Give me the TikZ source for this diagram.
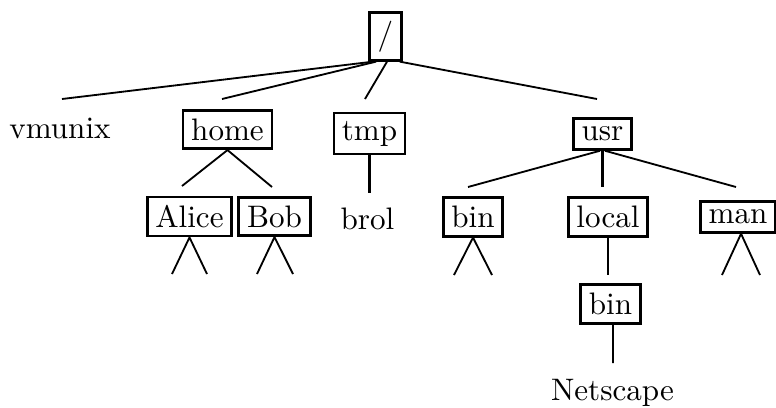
\documentclass[tikz,border=0pt]{standalone}
\begin{document}
\begin{tikzpicture}[x=0.328pt,y=-0.328pt,
  dirbox/.style={draw,line width=0.9pt,inner sep=2.7pt,font=\fontsize{10.2}{12}\selectfont},
  thinbox/.style={dirbox,line width=0.6pt},
  leaf/.style={inner sep=0pt,anchor=base,font=\fontsize{10.2}{12}\selectfont},
  conn/.style={line width=0.6pt},
  thickconn/.style={line width=1.25pt}]
\useasboundingbox (0,0) rectangle (776,407);
% nodes
\node[dirbox] (root) at (385.5,36.5) {/};
\node[leaf] (vmunix) at (60,138) {vmunix};
\node[dirbox] (home) at (227.5,129.5) {home};
\node[thinbox] (tmp) at (369.5,133.5) {tmp};
\node[dirbox] (usr) at (602.5,134) {usr};
\node[dirbox] (alice) at (189.5,216.5) {Alice};
\node[dirbox] (bob) at (274.5,216.5) {Bob};
\node[leaf] (brol) at (367.5,229) {brol};
\node[dirbox] (bin) at (473,217) {bin};
\node[dirbox] (local) at (608,217) {local};
\node[dirbox] (man) at (738,217) {man};
\node[dirbox] (lbin) at (610.5,304) {bin};
\node[leaf] (netscape) at (612.5,400) {Netscape};
% free ends
\coordinate (eVmunix) at (62,99);
\coordinate (eHome) at (222,99);
\coordinate (eTmp) at (365,99);
\coordinate (eUsr) at (597,99);
\coordinate (eAlice) at (182,186);
\coordinate (eBob) at (272,187);
\coordinate (eBrol) at (369.5,193);
\coordinate (eBin) at (468,187);
\coordinate (eLocal) at (602.5,187);
\coordinate (eMan) at (736,187);
\coordinate (eLbin) at (608,275);
\coordinate (eNet) at (613,363);
\coordinate (aL1) at (172,274); \coordinate (aR1) at (207,274);
\coordinate (bL1) at (257,274); \coordinate (bR1) at (293,274);
\coordinate (cL1) at (454,275); \coordinate (cR1) at (492,275);
\coordinate (mL1) at (722,275); \coordinate (mR1) at (760,275);
% connectors from root
\draw[conn] ([xshift=-4.1pt]root.south) -- (eVmunix);
\draw[conn] ([xshift=-3.1pt]root.south) -- (eHome);
\draw[conn] ([xshift=0.5pt]root.south) -- (eTmp);
\draw[conn] ([xshift=-1pt]root.south east) -- (eUsr);
% home
\draw[conn] (home.south) -- (eAlice);
\draw[conn] (home.south) -- (eBob);
% tmp
\draw[thickconn] (tmp.south) -- (eBrol);
% usr
\draw[conn] ([xshift=-0.8pt]usr.south) -- (eBin);
\draw[thickconn] (usr.south) -- (eLocal);
\draw[conn] ([xshift=0.8pt]usr.south) -- (eMan);
% local / bin
\draw[conn] (local.south) -- (eLbin);
\draw[conn] ([xshift=0.8pt]lbin.south) -- (eNet);
% subtree marks
\draw[conn] (aL1) -- (alice.south) -- (aR1);
\draw[conn] (bL1) -- (bob.south) -- (bR1);
\draw[conn] (cL1) -- (bin.south) -- (cR1);
\draw[conn] (mL1) -- ([xshift=1pt]man.south) -- (mR1);
\end{tikzpicture}
\end{document}
